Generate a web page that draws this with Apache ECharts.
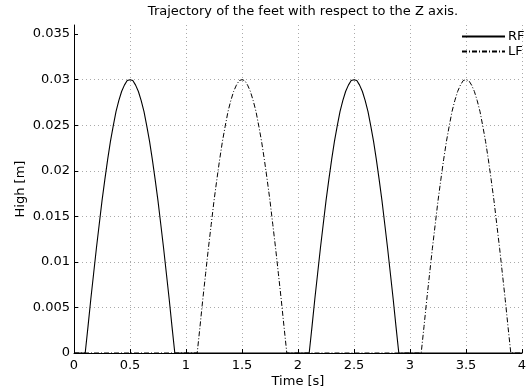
<!DOCTYPE html>
<html>
<head>
<meta charset="utf-8">
<script src="https://cdn.jsdelivr.net/npm/echarts@6/dist/echarts.min.js"></script>
<style>
  html, body { margin: 0; padding: 0; background: #fff; }
  #chart { width: 526px; height: 391px; }
</style>
</head>
<body>
<div id="chart"></div>
<script>
// Swing-phase height profile of one step, sampled every 0.025 s after lift-off [m]
const stepOffsets = [0, 0.025, 0.05, 0.075, 0.1, 0.125, 0.15, 0.175, 0.2, 0.225, 0.25, 0.275, 0.3,
  0.325, 0.35, 0.375, 0.4, 0.425, 0.45, 0.475, 0.5, 0.525, 0.55, 0.575, 0.6, 0.625, 0.65, 0.675,
  0.7, 0.725, 0.75, 0.775, 0.8];
const stepHeights = [0, 0.0029, 0.0059, 0.0087, 0.0115, 0.0141, 0.0167, 0.0190, 0.0212, 0.0232,
  0.0249, 0.0265, 0.0277, 0.0287, 0.0294, 0.0299, 0.0300, 0.0299, 0.0294, 0.0287, 0.0277, 0.0265,
  0.0249, 0.0232, 0.0212, 0.0190, 0.0167, 0.0141, 0.0115, 0.0087, 0.0059, 0.0029, 0];

// Lift-off times of each foot [s]
const rfLiftoff = [0.1, 2.1];
const lfLiftoff = [1.1, 3.1];
const tStart = 0, tEnd = 4;

const yTicks = [0, 0.005, 0.01, 0.015, 0.02, 0.025, 0.03, 0.035];

// Foot stays on the ground (z = 0) except during its swing phases
function footTrajectory(liftoffs) {
  const pts = [[tStart, 0]];
  liftoffs.forEach(t0 => {
    stepOffsets.forEach((dt, i) => pts.push([+(t0 + dt).toFixed(3), stepHeights[i]]));
  });
  pts.push([tEnd, 0]);
  return pts;
}

const font = 'DejaVu Sans';
const fs = 13;
const chart = echarts.init(document.getElementById('chart'), null, { renderer: 'canvas' });
chart.setOption({
  animation: false,
  backgroundColor: '#fff',
  title: {
    text: 'Trajectory of the feet with respect to the Z axis.',
    left: 298, top: 0, textAlign: 'center',
    textStyle: { fontFamily: font, fontSize: fs, fontWeight: 'normal', color: '#000' }
  },
  legend: {
    orient: 'vertical', left: 456, top: 25,
    itemWidth: 43, itemHeight: 10, itemGap: 2,
    itemStyle: { opacity: 0 },
    textStyle: { fontFamily: font, fontSize: fs, color: '#000', padding: [0, 0, 0, -2] },
    data: ['RF', 'LF']
  },
  grid: { left: 74, right: 4, top: 25, bottom: 38, containLabel: false, outerBoundsMode: 'none' },
  xAxis: {
    type: 'value', min: 0, max: 4, interval: 0.5,
    name: 'Time [s]', nameLocation: 'middle', nameGap: 22, nameMoveOverlap: false,
    nameTextStyle: { fontFamily: font, fontSize: fs, color: '#000' },
    axisLine: { show: true, onZero: false, lineStyle: { color: '#000', width: 1 } },
    axisTick: { show: true, inside: true, length: 4, lineStyle: { color: '#000' } },
    axisLabel: { fontFamily: font, fontSize: fs, color: '#000', margin: 6,
      formatter: v => String(+v.toFixed(3)) },
    splitLine: { show: true, lineStyle: { color: '#aaa', type: [1, 3], width: 1 } }
  },
  yAxis: {
    type: 'value', min: 0, max: 0.036, interval: 0.005,
    name: 'High [m]', nameLocation: 'middle', nameGap: 47, nameRotate: 90, nameMoveOverlap: false,
    nameTextStyle: { fontFamily: font, fontSize: fs, color: '#000' },
    axisLine: { show: true, onZero: false, lineStyle: { color: '#000', width: 1 } },
    axisTick: { show: true, inside: true, length: 4, lineStyle: { color: '#000' },
      customValues: yTicks },
    axisLabel: { fontFamily: font, fontSize: fs, color: '#000', margin: 4,
      customValues: yTicks, formatter: v => String(+v.toFixed(4)) },
    splitLine: { show: true, showMaxLine: false,
      lineStyle: { color: '#aaa', type: [1, 3], width: 1 } }
  },
  series: [
    {
      name: 'RF', type: 'line', symbol: 'none', data: footTrajectory(rfLiftoff),
      lineStyle: { color: '#000', width: 1.1, type: 'solid' },
      itemStyle: { color: '#000' }
    },
    {
      name: 'LF', type: 'line', symbol: 'none', data: footTrajectory(lfLiftoff),
      lineStyle: { color: '#000', width: 1, type: [5, 2, 1, 2] },
      itemStyle: { color: '#000' }
    }
  ]
});
</script>
</body>
</html>
